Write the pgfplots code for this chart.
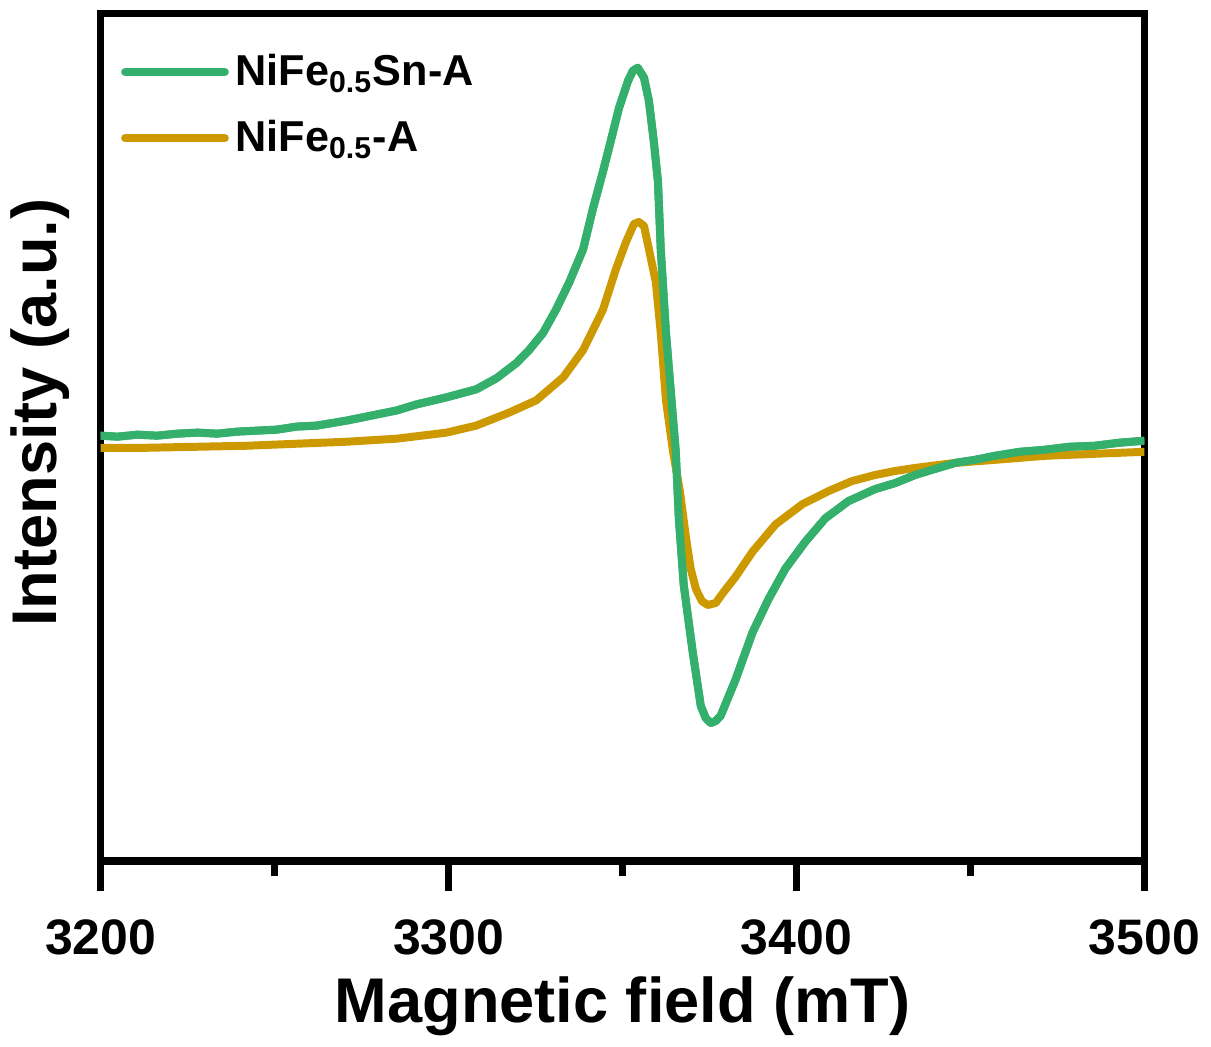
\documentclass[border=0pt]{standalone}
\usepackage{fontspec}
\setmainfont{Liberation Sans}
\usepackage{pgfplots}
\pgfplotsset{compat=1.18}
\definecolor{snGreen}{RGB}{52,176,108}
\definecolor{feGold}{RGB}{204,153,0}

% EPR spectra, intensity in arbitrary units
\pgfplotstableread{
x y
3200.0 422
3204.9 421
3210.6 423
3216.3 422
3222.1 424
3227.8 425
3233.5 424
3239.3 426
3245.0 427
3250.7 428
3256.4 431
3262.2 432
3270.8 437
3279.4 443
3285.1 447
3290.8 453
3299.4 460
3308.0 468
3313.8 479
3319.5 494
3323.2 507
3327.2 524
3330.9 547
3334.7 574
3338.7 607
3341.5 647
3344.4 684
3346.1 707
3349.0 747
3351.6 774
3353.0 784
3354.4 787
3356.2 777
3357.6 754
3359.0 714
3360.2 674
3361.0 607
3362.5 524
3364.5 440
3365.3 407
3366.2 340
3367.6 274
3370.2 207
3372.5 154
3373.9 142
3375.4 137
3376.8 139
3378.2 144
3382.5 180
3387.4 227
3392.0 260
3396.8 290
3402.6 317
3408.3 340
3414.9 357
3422.6 369
3428.4 375
3434.1 383
3439.8 389
3445.6 395
3451.3 398
3457.0 402
3464.2 406
3471.3 408
3478.5 411
3485.7 412
3492.8 415
3500.0 417
}\snA

\pgfplotstableread{
x y
3200.0 410
3213.5 410
3227.8 411
3242.1 412
3256.4 414
3270.8 416
3285.1 419
3299.4 425
3308.0 432
3317.5 445
3325.2 457
3333.0 480
3338.7 507
3344.4 547
3348.1 587
3351.0 614
3353.3 632
3354.7 634
3356.2 630
3357.6 607
3359.6 574
3361.0 524
3362.5 457
3364.5 407
3366.5 367
3368.2 322
3369.6 290
3371.1 270
3372.8 258
3374.5 254
3376.8 256
3379.1 267
3382.5 282
3387.4 307
3394.0 334
3401.7 354
3409.2 367
3416.0 377
3422.6 383
3428.4 387
3434.1 390
3445.6 395
3457.0 398
3471.3 402
3485.7 404
3500.0 406
}\feA

\begin{document}
\begin{tikzpicture}
\begin{axis}[
  scale only axis,
  width=314pt, height=255pt,
  xmin=3200, xmax=3500,
  ymin=0, ymax=841,
  xtick={3200,3300,3400,3500},
  minor xtick={3250,3350,3450},
  ytick=\empty,
  xtick pos=bottom,
  tick align=outside,
  major tick length=9pt,
  minor tick length=4.5pt,
  every tick/.style={black, line width=2.1pt},
  axis line style={line width=2.2pt},
  /pgf/number format/assume math mode=true,
  /pgf/number format/1000 sep={},
  xticklabel style={font=\fontsize{15}{15}\selectfont\bfseries, anchor=base, yshift=-19pt},
  xlabel={Magnetic field (mT)},
  ylabel={Intensity (a.u.)},
  xlabel style={font=\fontsize{19}{19}\selectfont\bfseries, at={(rel axis cs:0.5,0)}, anchor=base, yshift=-48.5pt},
  ylabel style={font=\fontsize{19}{19}\selectfont\bfseries, at={(rel axis cs:-0.018,0.529)}, anchor=south},
  legend style={draw=none, fill=none, at={(rel axis cs:0,1)}, anchor=north west,
    xshift=3pt, yshift=-8pt, font=\fontsize{13}{13}\selectfont\bfseries, row sep=5pt},
  legend cell align=left,
  legend image code/.code={\draw[#1, line width=2.4pt, line cap=round] (0pt,0pt) -- (30pt,0pt);},
]
\addplot[snGreen, line width=2.4pt, line join=round] table {\snA};
\addlegendentry{NiFe\textsubscript{0.5}Sn-A}
\addplot[feGold, line width=2.4pt, line join=round] table {\feA};
\addlegendentry{NiFe\textsubscript{0.5}-A}
\addplot[snGreen, line width=2.4pt, line join=round, forget plot] table {\snA};
\end{axis}
\path ([yshift=4pt]current axis.north);
\end{tikzpicture}
\end{document}
